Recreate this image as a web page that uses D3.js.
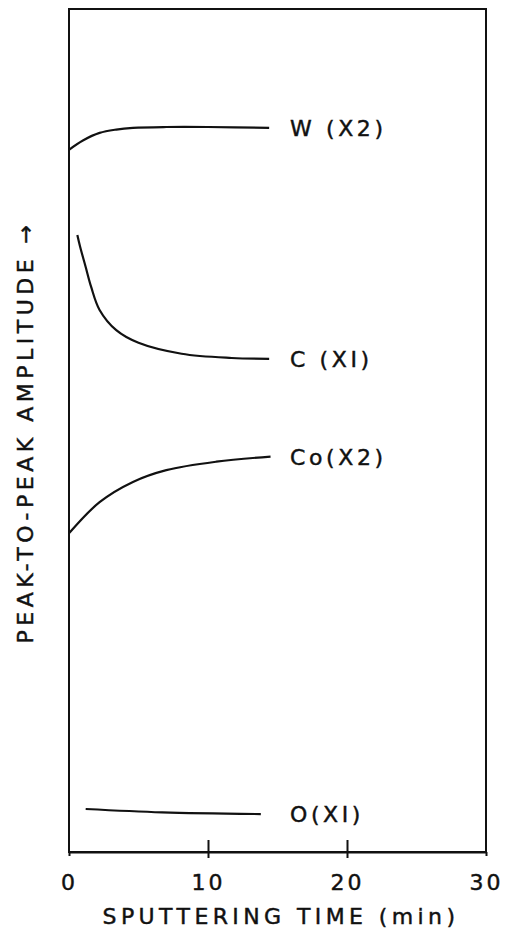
<!DOCTYPE html>
<html>
<head>
<meta charset="utf-8">
<script src="https://cdn.jsdelivr.net/npm/d3@7"></script>
<style>
  body { margin: 0; background: #fff; }
  text { font-family: "DejaVu Sans", "Liberation Sans", sans-serif; fill: #111; stroke: #111; stroke-width: 0.45; }
</style>
</head>
<body>
<div id="chart"></div>
<script>
// sputtering time (min) and peak-to-peak amplitude (arbitrary units, 0-100)
const wTime = [0, 1, 2.2, 3.4, 4.6, 7, 10, 14.4];
const wAmp  = [83.3, 84.4, 85.3, 85.7, 85.9, 86.0, 86.0, 85.9];

const cTime = [0.6, 0.8, 1.2, 1.6, 2.2, 3.4, 5.0, 8.1, 11.7, 14.4];
const cAmp  = [73.2, 71.8, 69.4, 67.0, 64.3, 61.9, 60.4, 59.1, 58.6, 58.5];

const coTime = [0, 2.2, 4.6, 7, 10.6, 14.5];
const coAmp  = [37.8, 41.5, 43.9, 45.3, 46.3, 46.9];

const oTime = [1.2, 6.7, 13.8];
const oAmp  = [5.1, 4.7, 4.5];

const seriesNames = ["W (X2)", "C (XI)", "Co(X2)", "O(XI)"];
const xTicks = [0, 10, 20, 30];
const xTickLabels = ["0", "10", "20", "30"];

let width = 507, height = 929;
let margin = {top: 9, right: 21, bottom: 77, left: 69};

let svg = d3.select('#chart').append('svg')
    .attr('width', width).attr('height', height);

let xScale = d3.scaleLinear().domain([0, 30]).range([margin.left, width - margin.right]);
let yScale = d3.scaleLinear().domain([0, 100]).range([height - margin.bottom, margin.top]);

// frame
svg.append('rect')
    .attr('x', margin.left).attr('y', margin.top)
    .attr('width', width - margin.left - margin.right)
    .attr('height', height - margin.top - margin.bottom)
    .attr('fill', 'none').attr('stroke', '#111').attr('stroke-width', 2);

// x axis
let xAxis = d3.axisBottom(xScale)
    .tickValues(xTicks)
    .tickFormat((d, i) => xTickLabels[i])
    .tickSizeOuter(0)
    .tickSize(0)
    .tickPadding(22);

let gx = svg.append('g')
    .attr('transform', 'translate(0,' + (height - margin.bottom) + ')')
    .call(xAxis);
gx.select('.domain').attr('stroke', '#111').attr('stroke-width', 2);
gx.selectAll('.tick line')
    .attr('y1', d => (d === 0 || d === 30) ? 4 : 6)
    .attr('y2', d => (d === 0 || d === 30) ? 0 : -12)
    .attr('stroke', '#111').attr('stroke-width', 2);
gx.selectAll('.tick text')
    .attr('font-size', 22)
    .attr('font-family', '"DejaVu Sans", sans-serif')
    .attr('fill', '#111')
    .attr('stroke', '#111').attr('stroke-width', 0.45)
    .attr('letter-spacing', 3);

// axis titles
svg.append('text')
    .attr('x', 281).attr('y', 924)
    .attr('text-anchor', 'middle')
    .attr('font-size', 22)
    .attr('letter-spacing', 4.4)
    .text('SPUTTERING TIME (min)');

svg.append('text')
    .attr('transform', 'translate(33,432) rotate(-90)')
    .attr('text-anchor', 'middle')
    .attr('font-size', 22)
    .attr('letter-spacing', 4.5)
    .text('PEAK-TO-PEAK AMPLITUDE \u2192');

// curves
let series = [
  {time: wTime, amp: wAmp},
  {time: cTime, amp: cAmp},
  {time: coTime, amp: coAmp},
  {time: oTime, amp: oAmp}
];

let line = d3.line()
    .x(d => xScale(d[0]))
    .y(d => yScale(d[1]))
    .curve(d3.curveCatmullRom.alpha(0.5));

series.forEach(function(s, i) {
  let pts = s.time.map((t, j) => [t, s.amp[j]]);
  svg.append('path')
      .attr('d', line(pts))
      .attr('fill', 'none')
      .attr('stroke', '#111')
      .attr('stroke-width', 2.2);

  let last = pts[pts.length - 1];
  svg.append('text')
      .attr('x', xScale(15.9))
      .attr('y', yScale(last[1]))
      .attr('dy', '0.36em')
      .attr('font-size', 22)
      .attr('letter-spacing', 3.6)
      .text(seriesNames[i]);
});
</script>
</body>
</html>
